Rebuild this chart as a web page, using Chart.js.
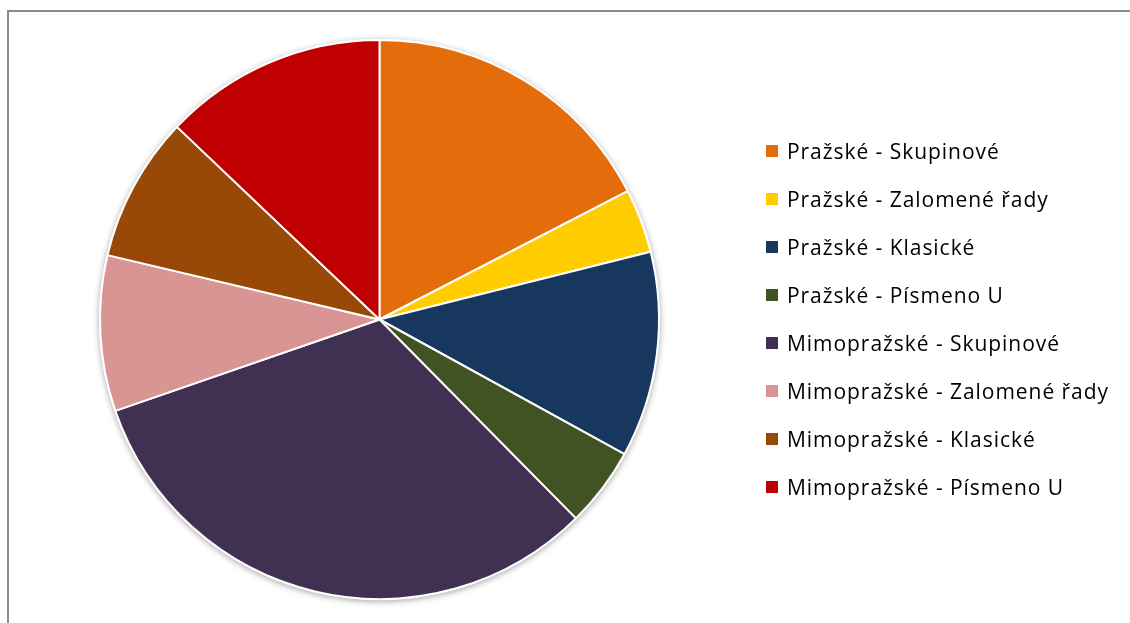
<!DOCTYPE html>
<html lang="cs">
<head>
<meta charset="utf-8">
<title>Uspořádání sedadel</title>
<script src="https://cdn.jsdelivr.net/npm/chart.js@4.4.1/dist/chart.umd.min.js"></script>
<style>
  html, body { margin: 0; padding: 0; background: #ffffff; }
  body { width: 1130px; height: 623px; position: relative; overflow: hidden; }
  #frame {
    position: absolute; left: 7px; top: 10px; width: 1200px; height: 700px;
    border-left: 2px solid #8c8c8c; border-top: 2px solid #8c8c8c;
  }
  #wrap { position: absolute; left: 0; top: 0; width: 1130px; height: 623px; }
  #legend {
    position: absolute; left: 766px; top: 127px; margin: 0; padding: 0; list-style: none;
    font-family: "Open Sans", Lato, sans-serif; font-size: 21px; letter-spacing: 0.95px; color: #000;
  }
  #legend li { height: 48px; display: flex; align-items: center; white-space: nowrap; }
  #legend .box { width: 12px; height: 12px; margin-right: 9px; flex: none; }
</style>
</head>
<body>
<div id="frame"></div>
<div id="wrap"><canvas id="chart" width="1130" height="623"></canvas></div>
<ul id="legend"></ul>
<script>
// Categories (seating layouts) and their shares in percent
const categories = [
  "Pražské - Skupinové",
  "Pražské - Zalomené řady",
  "Pražské - Klasické",
  "Pražské - Písmeno U",
  "Mimopražské - Skupinové",
  "Mimopražské - Zalomené řady",
  "Mimopražské - Klasické",
  "Mimopražské - Písmeno U"
];
const shares = [17.4, 3.7, 11.9, 4.6, 32.1, 9.0, 8.4, 12.9];
const sliceColors = [
  "#E46C0A", "#FFCC00", "#17375E", "#415323",
  "#403152", "#D99594", "#984807", "#C00000"
];

// Soft drop shadow around the outer rim of the pie
const rimShadow = {
  id: "rimShadow",
  beforeDatasetsDraw(chart) {
    const arc = chart.getDatasetMeta(0).data[0];
    if (!arc) return;
    const ctx = chart.ctx;
    ctx.save();
    ctx.shadowColor = "rgba(0,0,0,0.35)";
    ctx.shadowBlur = 6;
    ctx.shadowOffsetY = 1.5;
    ctx.fillStyle = "#ffffff";
    ctx.beginPath();
    ctx.arc(arc.x, arc.y, arc.outerRadius + 1, 0, Math.PI * 2);
    ctx.fill();
    ctx.restore();
  }
};

const chart = new Chart(document.getElementById("chart"), {
  type: "pie",
  data: {
    labels: categories,
    datasets: [{
      data: shares,
      backgroundColor: sliceColors,
      borderColor: "#ffffff",
      borderWidth: 2
    }]
  },
  options: {
    responsive: false,
    animation: false,
    layout: { padding: { left: 99, right: 470, top: 39, bottom: 23 } },
    plugins: {
      legend: { display: false },
      tooltip: { enabled: false }
    }
  },
  plugins: [rimShadow]
});

// Legend entries built from the same categories and colours
const legend = document.getElementById("legend");
categories.forEach((name, i) => {
  const li = document.createElement("li");
  const box = document.createElement("span");
  box.className = "box";
  box.style.background = sliceColors[i];
  li.appendChild(box);
  li.appendChild(document.createTextNode(name));
  legend.appendChild(li);
});
</script>
</body>
</html>
